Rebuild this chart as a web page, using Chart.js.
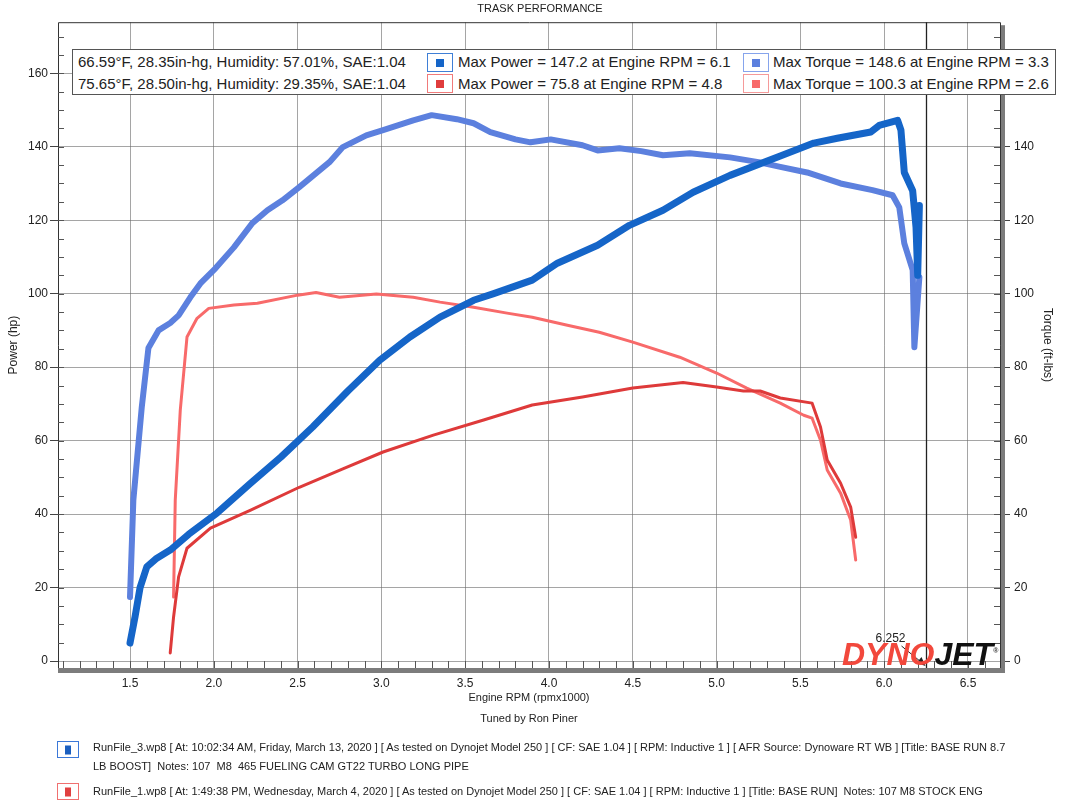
<!DOCTYPE html>
<html>
<head>
<meta charset="utf-8">
<script src="https://cdn.jsdelivr.net/npm/chart.js@4.4.1/dist/chart.umd.min.js"></script>
<style>
  body { margin: 0; background: #fff; font-family: "Liberation Sans", Arial, sans-serif; color: #222; }
  #wrap { position: relative; width: 1080px; height: 811px; overflow: hidden; background: #fff; }
  #dyno { position: absolute; left: 0; top: 0; }
  .legend { position: absolute; left: 72px; top: 49px; width: 982px; height: 44px; border: 1px solid #555; background: #fff; }
  .legend span { position: absolute; font-size: 15px; line-height: 20px; white-space: nowrap; color: #222; }
  .ico { position: absolute; box-sizing: border-box; border: 1.5px solid; background: #fff; }
  .ico i { position: absolute; left: 50%; top: 50%; transform: translate(-50%, -50%); }
  .legend .ico { width: 26px; height: 19px; }
  .legend .ico i { width: 8px; height: 8px; }
  .note { position: absolute; left: 93px; font-size: 11px; line-height: 19px; white-space: pre; color: #222; }
  .nico { width: 22px; height: 17px; left: 57px; }
  .nico i { width: 6px; height: 9px; }
  .logo { position: absolute; left: 842px; top: 638px; font-size: 32px; line-height: 1; font-weight: bold; font-style: italic; white-space: nowrap; }
  .logo .d { color: #f2483c; }
  .logo .j { color: #111; }
  .logo sup { font-size: 7px; color: #333; font-style: normal; }
</style>
</head>
<body>
<div id="wrap">
  <canvas id="dyno" width="1080" height="740"></canvas>

  <div class="legend">
    <span style="left:5px; top:2px">66.59°F, 28.35in-hg, Humidity: 57.01%, SAE:1.04</span>
    <div class="ico" style="left:354px; top:3px; border-color:#3f7fd6"><i style="background:#1565c8"></i></div>
    <span style="left:385px; top:2px">Max Power = 147.2 at Engine RPM = 6.1</span>
    <div class="ico" style="left:670px; top:3px; border-color:#86a4ec"><i style="background:#5c80de"></i></div>
    <span style="left:700px; top:2px">Max Torque = 148.6 at Engine RPM = 3.3</span>

    <span style="left:5px; top:24px">75.65°F, 28.50in-hg, Humidity: 29.35%, SAE:1.04</span>
    <div class="ico" style="left:354px; top:24px; border-color:#f07a7a"><i style="background:#e03c3c"></i></div>
    <span style="left:385px; top:24px">Max Power = 75.8 at Engine RPM = 4.8</span>
    <div class="ico" style="left:670px; top:24px; border-color:#f59a9a"><i style="background:#f86a6a"></i></div>
    <span style="left:700px; top:24px">Max Torque = 100.3 at Engine RPM = 2.6</span>
  </div>

  <div class="logo"><span class="d">DYNO</span><span class="j">JET</span><sup>®</sup></div>

  <div class="ico nico" style="top:741px; border-color:#3b78d8"><i style="background:#1a5fc0"></i></div>
  <div class="note" style="top:738px">RunFile_3.wp8 [ At: 10:02:34 AM, Friday, March 13, 2020 ] [ As tested on Dynojet Model 250 ] [ CF: SAE 1.04 ] [ RPM: Inductive 1 ] [ AFR Source: Dynoware RT WB ] [Title: BASE RUN 8.7
LB BOOST]  Notes: 107  M8  465 FUELING CAM GT22 TURBO LONG PIPE</div>
  <div class="ico nico" style="top:783px; border-color:#f07070"><i style="background:#e04040"></i></div>
  <div class="note" style="top:782px">RunFile_1.wp8 [ At: 1:49:38 PM, Wednesday, March 4, 2020 ] [ As tested on Dynojet Model 250 ] [ CF: SAE 1.04 ] [ RPM: Inductive 1 ] [Title: BASE RUN]  Notes: 107 M8 STOCK ENG</div>
</div>

<script>
// RunFile_3 (boosted) - power
const rpmPower3 = [1.50, 1.53, 1.56, 1.60, 1.66, 1.74, 1.85, 2.02, 2.22, 2.40, 2.59, 2.80, 2.99, 3.17, 3.35, 3.55, 3.67,
    3.90, 4.05, 4.29, 4.48, 4.68, 4.86, 5.08, 5.38, 5.58, 5.72, 5.92, 5.97, 6.08, 6.10, 6.12, 6.17, 6.19, 6.20, 6.21];
const power3 = [4.9, 12, 20, 25.6, 28, 30.2, 34.5, 40.3, 48.4, 55.5, 63.7, 73.5, 81.9, 88.2, 93.6, 98.2, 100,
    103.7, 108.3, 113.2, 118.6, 122.7, 127.6, 132.2, 137.5, 141, 142.3, 144, 145.8, 147.2, 144.5, 133, 128, 118, 105, 124];

// RunFile_3 - torque
const rpmTorque3 = [1.50, 1.52, 1.57, 1.61, 1.67, 1.74, 1.79, 1.86, 1.92, 2.01, 2.12, 2.23, 2.32, 2.41, 2.51, 2.69, 2.77,
    2.91, 3.01, 3.19, 3.30, 3.45, 3.55, 3.65, 3.80, 3.89, 4.01, 4.20, 4.29, 4.42, 4.55, 4.68, 4.84, 5.08, 5.25, 5.38,
    5.54, 5.74, 5.93, 6.05, 6.09, 6.12, 6.17, 6.18, 6.21];
const torque3 = [17.4, 43.8, 69, 85.2, 90, 92, 94.1, 99, 102.8, 106.9, 112.6, 119.2, 122.7, 125.4, 129, 135.8, 139.9,
    143.1, 144.5, 147.2, 148.6, 147.5, 146.4, 144, 142, 141.2, 142, 140.4, 139, 139.6, 138.8, 137.7, 138.2, 137.1, 135.8, 134.5,
    133, 130, 128.2, 126.8, 123.5, 113.7, 106.4, 85.4, 104.5];

// RunFile_1 (stock) - power
const rpmPower1 = [1.74, 1.76, 1.79, 1.84, 1.98, 2.22, 2.51, 2.77, 3.01, 3.31, 3.61, 3.90, 4.20, 4.50, 4.80, 5.00,
    5.16, 5.26, 5.38, 5.57, 5.62, 5.66, 5.74, 5.80, 5.83];
const power1 = [2.2, 12, 22.9, 30.7, 36.2, 41.1, 47.3, 52.3, 56.9, 61.5, 65.6, 69.7, 71.9, 74.3, 75.8, 74.6,
    73.5, 73.5, 71.6, 70.2, 63.7, 54.7, 48.4, 41.9, 33.7];

// RunFile_1 - torque
const rpmTorque1 = [1.76, 1.77, 1.80, 1.84, 1.90, 1.97, 2.12, 2.26, 2.50, 2.61, 2.75, 2.97, 3.19, 3.35, 3.55, 3.75,
    3.90, 4.11, 4.30, 4.50, 4.78, 5.00, 5.18, 5.38, 5.52, 5.57, 5.62, 5.66, 5.74, 5.80, 5.83];
const torque1 = [17.4, 43.8, 68.3, 88.2, 93.3, 96, 96.9, 97.4, 99.6, 100.3, 99, 99.9, 99, 97.7, 96.3, 94.7,
    93.6, 91.4, 89.5, 86.8, 82.7, 78.4, 74.3, 70.2, 66.9, 66.1, 60.1, 52, 45.7, 38.4, 27.5];

const rpmTicks = [1.5, 2.0, 2.5, 3.0, 3.5, 4.0, 4.5, 5.0, 5.5, 6.0, 6.5];
const powerTicks = [0, 20, 40, 60, 80, 100, 120, 140, 160];
const torqueTicks = [0, 20, 40, 60, 80, 100, 120, 140];
const cursorRpm = 6.252;

const gridColor = 'rgba(105, 105, 105, 0.6)';
const tickFont = { family: '"Liberation Sans", Arial, sans-serif', size: 12 };

const toPoints = (xs, ys) => xs.map((x, i) => ({ x: x, y: ys[i] }));

function line(data, color, width, axis) {
    return {
        data: data,
        yAxisID: axis,
        borderColor: color,
        borderWidth: width,
        pointRadius: 0,
        tension: 0,
        borderJoinStyle: 'round',
        borderCapStyle: 'round',
        fill: false
    };
}

// frame, minor ticks and the rpm cursor
const dynoFrame = {
    id: 'dynoFrame',
    afterDatasetsDraw(chart) {
        const { ctx, chartArea: a, scales } = chart;
        const xs = scales.x, ys = scales.yPower;
        ctx.save();

        // shadow bars right and bottom
        ctx.fillStyle = '#7c7c7c';
        ctx.fillRect(a.right, a.top + 3, 5, a.bottom - a.top + 2);
        ctx.fillRect(a.left, a.bottom, a.right - a.left + 5, 5);

        // thin border
        ctx.strokeStyle = '#333';
        ctx.lineWidth = 1;
        ctx.beginPath();
        ctx.moveTo(a.left + 0.5, a.bottom);
        ctx.lineTo(a.left + 0.5, a.top + 0.5);
        ctx.lineTo(a.right + 0.5, a.top + 0.5);
        ctx.lineTo(a.right + 0.5, a.bottom);
        ctx.stroke();

        // minor ticks
        ctx.strokeStyle = '#555';
        ctx.beginPath();
        for (let v = 5; v <= 170; v += 5) {
            const y = Math.round(ys.getPixelForValue(v)) + 0.5;
            ctx.moveTo(a.left, y); ctx.lineTo(a.left + 6, y);
            ctx.moveTo(a.right, y); ctx.lineTo(a.right - 6, y);
        }
        for (let i = 11; i <= 66; i++) {
            const x = Math.round(xs.getPixelForValue(i / 10)) + 0.5;
            ctx.moveTo(x, a.bottom); ctx.lineTo(x, a.bottom - 7);
        }
        ctx.stroke();

        // cursor
        const cx = Math.round(xs.getPixelForValue(cursorRpm)) + 0.5;
        ctx.strokeStyle = '#222';
        ctx.lineWidth = 1.3;
        ctx.beginPath();
        ctx.moveTo(cx, a.top);
        ctx.lineTo(cx, a.bottom);
        ctx.stroke();

        ctx.fillStyle = '#222';
        ctx.font = '12px "Liberation Sans", Arial, sans-serif';
        ctx.textAlign = 'center';
        ctx.textBaseline = 'middle';
        ctx.fillText(cursorRpm.toFixed(3), cx - 36, a.bottom - 29);

        ctx.lineWidth = 1;
        ctx.beginPath();
        ctx.moveTo(cx - 25, a.bottom - 22);
        ctx.lineTo(cx - 3, a.bottom - 4);
        ctx.stroke();
        ctx.beginPath();
        ctx.moveTo(cx - 1, a.bottom - 2);
        ctx.lineTo(cx - 10, a.bottom - 5);
        ctx.lineTo(cx - 5, a.bottom - 11);
        ctx.closePath();
        ctx.fill();
        ctx.restore();
    }
};

new Chart(document.getElementById('dyno'), {
    type: 'line',
    data: {
        datasets: [
            line(toPoints(rpmPower3, power3), '#1565c8', 7, 'yPower'),
            line(toPoints(rpmTorque3, torque3), '#5c80de', 6, 'yTorque'),
            line(toPoints(rpmPower1, power1), '#de3a3a', 3, 'yPower'),
            line(toPoints(rpmTorque1, torque1), '#f86a6a', 3, 'yTorque')
        ]
    },
    options: {
        responsive: false,
        animation: false,
        devicePixelRatio: 1,
        layout: { padding: 0 },
        plugins: {
            legend: { display: false },
            tooltip: { enabled: false },
            title: {
                display: true,
                text: 'TRASK PERFORMANCE',
                color: '#222',
                font: { family: '"Liberation Sans", Arial, sans-serif', size: 11, weight: 'normal' },
                padding: { top: 2, bottom: 7 }
            }
        },
        scales: {
            x: {
                type: 'linear',
                min: 1.0704,
                max: 6.691,
                afterBuildTicks: s => { s.ticks = rpmTicks.map(v => ({ value: v })); },
                afterFit: s => { s.height = 72; },
                border: { display: false },
                grid: { color: gridColor, borderDash: [2, 2], tickLength: 0 },
                ticks: { color: '#222', font: tickFont, padding: 8, maxRotation: 0, callback: v => Number(v).toFixed(1) },
                title: {
                    display: true,
                    text: ['Engine RPM (rpmx1000)', 'Tuned by Ron Piner'],
                    color: '#222',
                    font: { family: '"Liberation Sans", Arial, sans-serif', size: 11, lineHeight: 1.909 },
                    padding: { top: 0, bottom: 11 }
                }
            },
            yPower: {
                type: 'linear',
                position: 'left',
                min: -1.9,
                max: 173.9,
                afterBuildTicks: s => { s.ticks = powerTicks.map(v => ({ value: v })); },
                afterFit: s => { s.width = 58; },
                border: { display: false },
                grid: { color: gridColor, borderDash: [2, 2], tickLength: 8, tickColor: '#444', tickBorderDash: [] },
                ticks: { color: '#222', font: tickFont, padding: 2 },
                title: {
                    display: true,
                    text: 'Power (hp)',
                    color: '#222',
                    font: { family: '"Liberation Sans", Arial, sans-serif', size: 12 },
                    padding: { top: 6, bottom: 0 }
                }
            },
            yTorque: {
                type: 'linear',
                position: 'right',
                min: -1.9,
                max: 173.9,
                afterBuildTicks: s => { s.ticks = torqueTicks.map(v => ({ value: v })); },
                afterFit: s => { s.width = 80; },
                border: { display: false },
                grid: { drawOnChartArea: false, tickLength: 10, tickColor: '#444' },
                ticks: { color: '#222', font: tickFont, padding: 4 },
                title: {
                    display: true,
                    text: 'Torque (ft-lbs)',
                    color: '#222',
                    font: { family: '"Liberation Sans", Arial, sans-serif', size: 12 },
                    padding: { top: 25, bottom: 0 }
                }
            }
        }
    },
    plugins: [dynoFrame]
});
</script>
</body>
</html>
